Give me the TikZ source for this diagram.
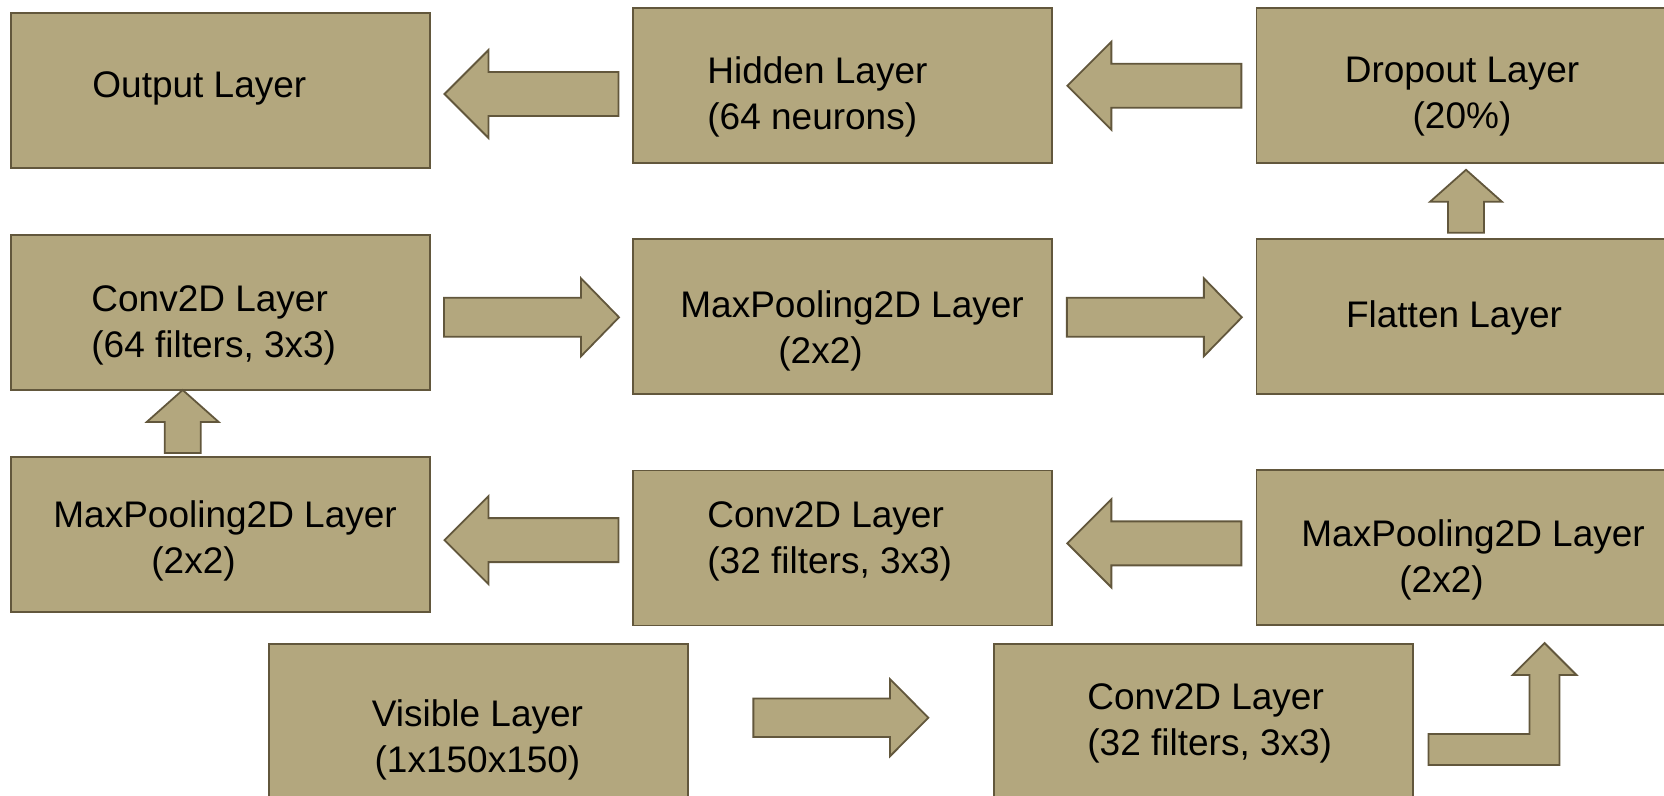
\documentclass[tikz,border=0pt]{standalone}
\usepackage{fontspec}
\setmainfont{Liberation Sans}
\usetikzlibrary{calc}

\definecolor{boxcol}{RGB}{179,167,126}
\definecolor{edgecol}{RGB}{98,87,60}

\tikzset{
  layer/.style={draw=edgecol, fill=boxcol, line width=0.9pt, minimum width=209.5pt, minimum height=77.5pt, inner sep=0pt, outer sep=0pt},
  lbl/.style={inner sep=0pt, align=left, font=\fontsize{18.5}{23}\selectfont},
  blk/.style={draw=edgecol, fill=boxcol, line width=0.9pt},
  pics/blockarrow/.style n args={3}{code={
    \filldraw[blk] ({-#1/2},{-#2/2}) -- ({#1/2-#3},{-#2/2}) -- ({#1/2-#3},{-#2}) -- ({#1/2},0)
      -- ({#1/2-#3},{#2}) -- ({#1/2-#3},{#2/2}) -- ({-#1/2},{#2/2}) -- cycle;
  }}
}

\begin{document}
\begin{tikzpicture}[x=0.5pt, y=-0.5pt]
\useasboundingbox (0,0) rectangle (1664,796);
\clip (0,0) rectangle (1664,796);

% layers
\node[layer] (out) at (220.3,90.2) {};
\node[layer] (hid) at (842.7,85.8) {};
\node[layer] (drop) at (1466,85.8) {};
\node[layer] (conv64) at (220.3,312.8) {};
\node[layer] (mp1) at (842.7,316.8) {};
\node[layer] (flat) at (1466,316.8) {};
\node[layer] (mpL) at (220.3,534.2) {};
\node[layer] (conv32a) at (842.7,548) {};
\node[layer] (mpR) at (1466,547.5) {};
\node[layer] (vis) at (478.2,721.5) {};
\node[layer] (conv32b) at (1203.5,721.5) {};

% texts
\node[lbl, anchor=west] (out-t) at (92,88) {Output Layer};
\node[lbl, anchor=west] (hid-t) at (707,97) {Hidden Layer\\(64 neurons)};
\node[lbl, align=center] (drop-t) at (1462,97) {Dropout Layer\\(20\%)};
\node[lbl, anchor=west] (conv64-t) at (91,325) {Conv2D Layer\\(64 filters, 3x3)};
\node[lbl, anchor=west] (mp1-t) at (680,331) {MaxPooling2D Layer\\\hspace*{49pt}(2x2)};
\node[lbl] (flat-t) at (1454,318) {Flatten Layer};
\node[lbl, anchor=west] (mpL-t) at (53,541) {MaxPooling2D Layer\\\hspace*{49pt}(2x2)};
\node[lbl, anchor=west] (conv32a-t) at (707,541) {Conv2D Layer\\(32 filters, 3x3)};
\node[lbl, anchor=west] (mpR-t) at (1301,560) {MaxPooling2D Layer\\\hspace*{49pt}(2x2)};
\node[lbl, align=center] (vis-t) at (477.5,740) {Visible Layer\\(1x150x150)};
\node[lbl, anchor=west] (conv32b-t) at (1087,723.5) {Conv2D Layer\\(32 filters, 3x3)};

% arrows
\pic[rotate=180] at ($(out.east)!.5!(hid.west)+(0,6)$) {blockarrow={174}{44}{44}};
\pic[rotate=180] at ($(hid.east)!.5!(drop.west)$) {blockarrow={174}{44}{44}};
\pic[rotate=90] at ($(flat.north)!.5!(drop.south)$) {blockarrow={63}{36}{32}};
\pic at ($(conv64.east)!.5!(mp1.west)+(0,2.5)$) {blockarrow={175}{39}{38}};
\pic at ($(mp1.east)!.5!(flat.west)+(0,0.5)$) {blockarrow={175}{39}{38}};
\pic[rotate=90] at ($(mpL.north)!.5!(conv64.south)+(-37.6,-2)$) {blockarrow={63}{36}{32}};
\pic[rotate=180] at ($(mpL.east)!.5!(conv32a.west)+(0,-1)$) {blockarrow={174}{44}{44}};
\pic[rotate=180] at ($(conv32a.east)!.5!(mpR.west)+(0,-4.4)$) {blockarrow={174}{44}{44}};
\pic at ($(vis.east)!.5!(conv32b.west)+(0,-3.8)$) {blockarrow={175}{38.5}{38.3}};
\filldraw[blk] ([shift={(15.5,12.5)}]conv32b.east) -- ++(101,0) -- ++(0,-59) -- ++(-17,0) -- ++(32,-32)
  -- ++(32,32) -- ++(-17,0) -- ++(0,90) -- ++(-131,0) -- cycle;
\end{tikzpicture}
\end{document}
